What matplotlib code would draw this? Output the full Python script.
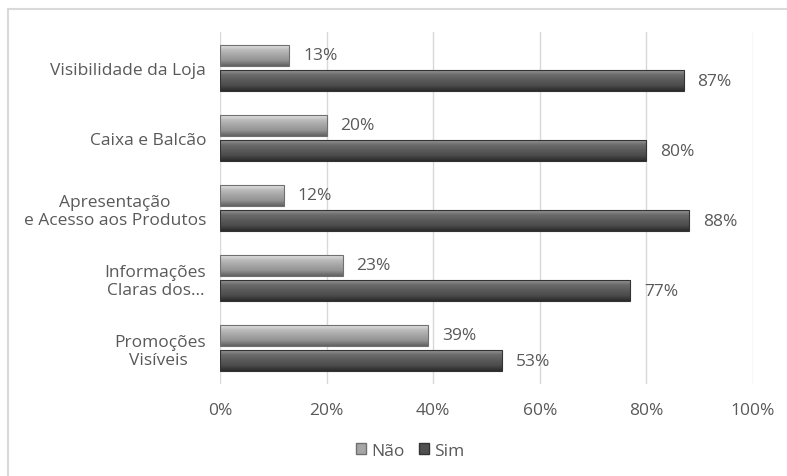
import numpy as np
import matplotlib.pyplot as plt
from matplotlib.patches import Rectangle, Patch
from matplotlib.colors import LinearSegmentedColormap

categories = ["Visibilidade da Loja", "Caixa e Balcão", "Apresentação\ne Acesso aos Produtos",
              "Informações\nClaras dos...", "Promoções\nVisíveis "]
nao = [13, 20, 12, 23, 39]
sim = [87, 80, 88, 77, 53]
xticks = [0, 20, 40, 60, 80, 100]

plt.rcParams['font.family'] = ['Open Sans', 'DejaVu Sans']
txt = '#595959'
fs = 12.5

fig = plt.figure(figsize=(7.87, 4.77), dpi=100)
# outer chart frame
fig.patches.append(Rectangle((8 / 787, -0.1), 1.2, 1 - 10 / 477 + 0.1, transform=fig.transFigure,
                             fill=False, edgecolor='#d9d9d9', linewidth=1.5))
ax = fig.add_axes([220 / 787, 1 - 385 / 477, 533 / 787, 352 / 477])

cm_nao = LinearSegmentedColormap.from_list('nao', ['#ececec', '#bdbdbd', '#a6a6a6', '#939393', '#626262'])
cm_sim = LinearSegmentedColormap.from_list('sim', ['#a0a0a0', '#6c6c6c', '#5a5a5a', '#4c4c4c', '#2a2a2a'])
grad = np.linspace(0, 1, 64).reshape(-1, 1)

y = np.arange(len(categories))
h = 0.3
off = 0.185


def draw(vals, ypos, cmap, edge):
    bars = ax.barh(ypos, vals, height=h, color='none', edgecolor=edge, linewidth=0.8, zorder=3)
    for b, v, yy in zip(bars, vals, ypos):
        im = ax.imshow(grad, extent=[0, v, yy + h / 2, yy - h / 2], aspect='auto', cmap=cmap, zorder=2)
        im.set_clip_path(b)
        ax.text(v + 2.6, yy, f"{v}%", va='center', ha='left', fontsize=fs, color=txt)


draw(nao, y - off, cm_nao, '#707070')
draw(sim, y + off, cm_sim, '#333333')

ax.set_xlim(0, 100)
ax.set_ylim(len(categories) - 0.486, -0.514)
ax.set_xticks(xticks)
ax.set_xticklabels([f"{t}%" for t in xticks], fontsize=fs, color=txt)
ax.set_yticks(y)
ax.set_yticklabels(categories, fontsize=fs, color=txt, multialignment='center')
ax.tick_params(length=0, axis='x', pad=13)
ax.tick_params(length=0, axis='y', pad=10)
ax.grid(axis='x', color='#d9d9d9', linewidth=1)
ax.set_axisbelow(True)
for s in ax.spines.values():
    s.set_visible(False)

handles = [Patch(facecolor='#a6a6a6', edgecolor='#707070', label='Não'),
           Patch(facecolor='#505050', edgecolor='#333333', label='Sim')]
leg = fig.legend(handles=handles, loc='center', bbox_to_anchor=(410 / 787, 1 - 452 / 477), ncol=2,
                 frameon=False, fontsize=fs, handlelength=0.6, handleheight=0.6,
                 handletextpad=0.3, columnspacing=0.8)
for t in leg.get_texts():
    t.set_color(txt)

fig.savefig('out.png', dpi=100)
